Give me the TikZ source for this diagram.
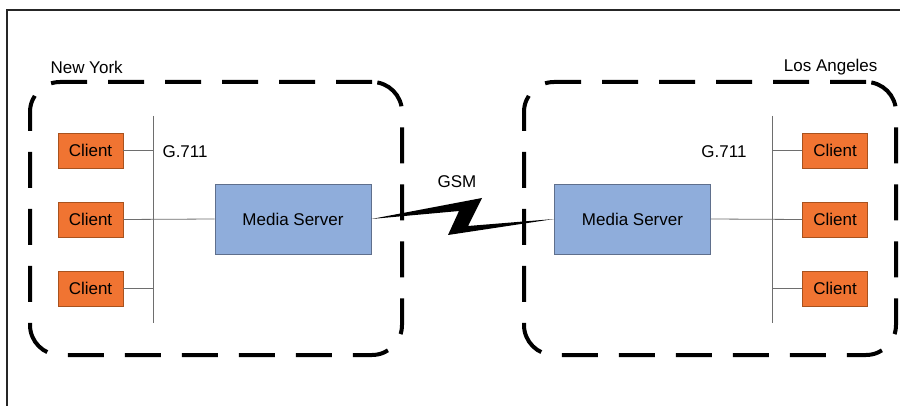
\documentclass[tikz,border=0pt]{standalone}
\usepackage{fontspec}
\setmainfont{Liberation Sans}
\begin{document}
\begin{tikzpicture}[x=1pt,y=-1pt,
  font=\fontsize{17}{20}\selectfont,
  client/.style={draw=clientedge,fill=clientfill,line width=0.9pt,
    minimum width=65pt,minimum height=35pt,inner sep=0pt},
  server/.style={draw=serveredge,fill=serverfill,line width=0.9pt,
    minimum width=156pt,minimum height=70pt,inner sep=0pt},
  site/.style={draw=black,line width=4pt,dash pattern=on 36pt off 21pt,
    rounded corners=30pt,minimum width=372pt,minimum height=273pt,inner sep=0pt},
  wire/.style={draw=wiregray,line width=0.8pt},
  bolt/.style={fill=black,draw=black,line width=0.4pt,line join=miter}]
\definecolor{clientfill}{HTML}{F07432}
\definecolor{clientedge}{HTML}{A8521E}
\definecolor{serverfill}{HTML}{8FADDB}
\definecolor{serveredge}{HTML}{5F6F8C}
\definecolor{wiregray}{HTML}{6E6E6E}

\useasboundingbox (0,0) rectangle (900,406);
\fill[white] (0,0) rectangle (900,406);

% outer frame (top and left edges)
\coordinate (frameTL) at (7,10);
\coordinate (frameTR) at (900,10);
\coordinate (frameBL) at (7,406);
\draw[line width=1.6pt,draw=black!85] (frameTR) -- (frameTL) -- (frameBL);

% sites
\node[site] (nybox) at (216,218.5) {};
\node[site] (labox) at (710,218.5) {};
\node[anchor=west] (nylabel) at (47,67) {New York};
\node[anchor=east] (lalabel) at (881,67) {Los Angeles};

% New York side
\node[client] (nyc1) at (90.5,150.5) {Client};
\node[client] (nyc2) at (90.5,219.5) {Client};
\node[client] (nyc3) at (90.5,288.5) {Client};
\node[server] (nyms) at (293,219) {Media Server};
\coordinate (nybusT) at (153,116);
\coordinate (nybusB) at (153,323);
\draw[wire] (nybusT) -- (nybusB);
\draw[wire] (nyc1.east) -- (nyc1.east -| nybusT);
\draw[wire] (nyc3.east) -- (nyc3.east -| nybusT);
\draw[wire] (nyc2.east) -- (nyms.west);
\node[anchor=west] (nycodec) at (159,152) {G.711};

% Los Angeles side
\node[client] (lac1) at (835,150.5) {Client};
\node[client] (lac2) at (835,219.5) {Client};
\node[client] (lac3) at (835,288.5) {Client};
\node[server] (lams) at (632.5,219) {Media Server};
\coordinate (labusT) at (772,116);
\coordinate (labusB) at (772,323);
\draw[wire] (labusT) -- (labusB);
\draw[wire] (lac1.west) -- (lac1.west -| labusT);
\draw[wire] (lac3.west) -- (lac3.west -| labusT);
\draw[wire] (lams.east) -- (lac2.west);
\node[anchor=east] (lacodec) at (750,152) {G.711};

% GSM link (lightning bolt)
\coordinate (boltA) at (482,198);
\coordinate (boltB) at (468,226);
\coordinate (boltC) at (448,235);
\coordinate (boltD) at (459,211);
\fill[black] (nyms.east) -- (boltA) -- (boltB) -- (lams.west) -- (boltC) -- (boltD) -- cycle;
\node (gsm) at (457,182) {GSM};
\end{tikzpicture}
\end{document}
